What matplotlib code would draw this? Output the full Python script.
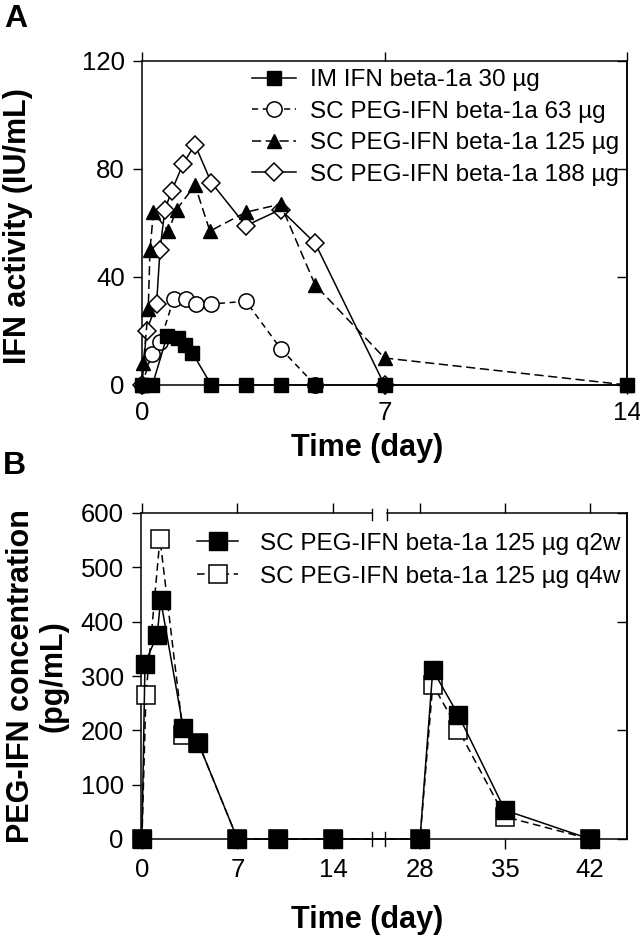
import numpy as np
import matplotlib
matplotlib.use('Agg')
import matplotlib.pyplot as plt

plt.rcParams['font.family'] = ['Liberation Sans', 'DejaVu Sans']

# pannello A - attivita IFN (IU/mL)
t_im30 = [0, 0.3, 0.72, 1.05, 1.25, 1.45, 2, 3, 4, 5, 7, 14]
v_im30 = [0, 0, 18, 17.5, 15, 12, 0, 0, 0, 0, 0, 0]
t_sc63 = [0, 0.28, 0.52, 0.92, 1.26, 1.55, 2, 3, 4, 5]
v_sc63 = [0, 11.5, 16, 32, 32, 30, 30, 31, 13.5, 0]
t_sc125 = [0, 0.04, 0.18, 0.23, 0.33, 0.76, 1.0, 1.53, 1.96, 3, 4, 5, 7, 14]
v_sc125 = [0, 8, 28, 50, 64, 57, 65, 74, 57, 64, 67, 37, 10, 0]
t_sc188 = [0, 0.13, 0.42, 0.52, 0.66, 0.86, 1.19, 1.53, 2, 3, 4, 5, 7]
v_sc188 = [0, 20, 30, 50, 65, 72, 82, 89, 75, 59, 65, 52.5, 0]

lab_A = ['IM IFN beta-1a 30 \u00b5g', 'SC PEG-IFN beta-1a 63 \u00b5g',
         'SC PEG-IFN beta-1a 125 \u00b5g', 'SC PEG-IFN beta-1a 188 \u00b5g']

# pannello B - concentrazione PEG-IFN (pg/mL)
t_q2w = [0, 0.22, 1.12, 1.37, 3.03, 4.13, 7, 10, 14, 28, 29.05, 31.16, 35, 42]
v_q2w = [0, 323, 376, 440, 204, 177, 0, 0, 0, 0, 311, 228, 53, 0]
t_q4w = [0, 0.29, 1.32, 3.03, 4.13, 7, 10, 14, 28, 29.05, 31.16, 35, 42]
v_q4w = [0, 265, 553, 191, 177, 0, 0, 0, 0, 284, 201, 41, 0]

lab_B = ['SC PEG-IFN beta-1a 125 \u00b5g q2w', 'SC PEG-IFN beta-1a 125 \u00b5g q4w']

tick_fs = 18.5
lab_fs = 22
leg_fs = 17.5

fig = plt.figure(figsize=(6.4, 9.36), dpi=100)

# ---------------- A ----------------
ax = fig.add_axes([142/640, 1-385/936, 485/640, 324/936])
ax.plot(t_im30, v_im30, 'k-', marker='s', ms=9.5, mfc='k', mec='k', lw=1.1,
        clip_on=False, zorder=5, label=lab_A[0])
ax.plot(t_sc63, v_sc63, color='k', ls=(0, (4, 3)), marker='o', ms=11, mfc='white',
        mec='k', mew=1.1, lw=1.1, clip_on=False, zorder=3, label=lab_A[1])
ax.plot(t_sc125, v_sc125, color='k', ls=(0, (6, 3)), marker='^', ms=10.5, mfc='k',
        mec='k', lw=1.1, clip_on=False, zorder=4, label=lab_A[2])
ax.plot(t_sc188, v_sc188, 'k-', marker='D', ms=9.5, mfc='white', mec='k', mew=1.1,
        lw=1.1, clip_on=False, zorder=3, label=lab_A[3])
ax.set_xlim(0, 14)
ax.set_ylim(0, 120)
ax.set_xticks([0, 7, 14])
ax.set_yticks([0, 40, 80, 120])
ax.tick_params(axis='both', direction='out', length=6.5, width=1, labelsize=tick_fs, pad=6)
ax.tick_params(axis='x', top=True, pad=5)
for s in ax.spines.values():
    s.set_linewidth(1.1)
sec = ax.secondary_yaxis('right')
sec.set_yticks([0, 40, 80, 120])
sec.tick_params(direction='in', length=7, width=1, labelright=False)
sec.spines['right'].set_linewidth(1.1)
ax.set_xlabel('Time (day)', fontsize=lab_fs, fontweight='bold', va='center')
ax.xaxis.set_label_coords(0.464, -0.194)
ax.set_ylabel('IFN activity (IU/mL)', fontsize=lab_fs, fontweight='bold', va='center')
ax.yaxis.set_label_coords(-0.256, 0.49)
h, l = ax.get_legend_handles_labels()
ax.legend(h, l, loc='upper left', bbox_to_anchor=(0.227, 0.975), frameon=False,
          fontsize=leg_fs, numpoints=1, handlelength=1.8, handletextpad=0.6,
          labelspacing=0.39, borderpad=0, borderaxespad=0)

# ---------------- B ----------------
axb = fig.add_axes([141/640, 1-839/936, 486/640, 326/936])

# asse x interrotto tra 14 e 28 giorni
brk_x = [-50, 16.86, 25.12, 200]
brk_f = [-50, 16.86, 17.82, 17.82 + 0.89*(200-25.12)]

def fwd(x):
    return np.interp(x, brk_x, brk_f)

def inv(x):
    return np.interp(x, brk_f, brk_x)

axb.set_xscale('function', functions=(fwd, inv))
axb.plot(t_q2w, v_q2w, 'k-', marker='s', ms=12.5, mfc='k', mec='k', lw=1.1,
         clip_on=False, zorder=4, label=lab_B[0])
axb.plot(t_q4w, v_q4w, color='k', ls=(0, (5, 3)), marker='s', ms=12.5, mfc='white',
         mec='k', mew=1.1, lw=1.1, clip_on=False, zorder=3, label=lab_B[1])
axb.set_xlim(-0.07, 45.05)
axb.set_ylim(0, 600)
axb.set_xticks([0, 7, 14, 28, 35, 42])
axb.set_xticklabels(['0', '7', '14', '28', '35', '42'])
axb.xaxis.set_minor_locator(matplotlib.ticker.NullLocator())
axb.set_yticks([0, 100, 200, 300, 400, 500, 600])
axb.tick_params(axis='both', direction='out', length=6.5, width=1, labelsize=tick_fs, pad=6)
axb.tick_params(axis='x', top=True, length=7.5, pad=6)
for s in axb.spines.values():
    s.set_linewidth(1.1)
axb.spines['top'].set_visible(False)
tr = axb.get_xaxis_transform()
axb.plot([-0.07, 17.0], [1, 1], 'k-', lw=1.1, transform=tr, clip_on=False)
axb.plot([25.3, 45.05], [1, 1], 'k-', lw=1.1, transform=tr, clip_on=False)
for xb in [17.0, 25.3]:
    axb.plot([xb, xb], [1-0.021, 1+0.012], 'k-', lw=1, transform=tr, clip_on=False)
for xb in [16.86, 25.12]:
    axb.plot([xb, xb], [-0.022, 0.022], 'k-', lw=1, transform=tr, clip_on=False)
secb = axb.secondary_yaxis('right')
secb.set_yticks([0, 200, 400, 600])
secb.tick_params(direction='in', length=7, width=1, labelright=False)
secb.spines['right'].set_linewidth(1.1)
axb.set_xlabel('Time (day)', fontsize=lab_fs, fontweight='bold', va='center')
axb.xaxis.set_label_coords(0.465, -0.248)
axb.set_ylabel('PEG-IFN concentration\n(pg/mL)', fontsize=lab_fs, fontweight='bold',
               va='center', linespacing=1.1)
axb.yaxis.set_label_coords(-0.214, 0.5)
axb.legend(loc='upper left', bbox_to_anchor=(0.115, 0.94), frameon=False,
           fontsize=leg_fs, numpoints=1, handlelength=1.7, handletextpad=0.9,
           labelspacing=0.45, borderpad=0, borderaxespad=0)

fig.text(4/640, 1-4/936, 'A', fontsize=23, fontweight='bold', ha='left', va='top')
fig.text(3/640, 1-451/936, 'B', fontsize=23, fontweight='bold', ha='left', va='top')

fig.savefig('out.png', dpi=100)
